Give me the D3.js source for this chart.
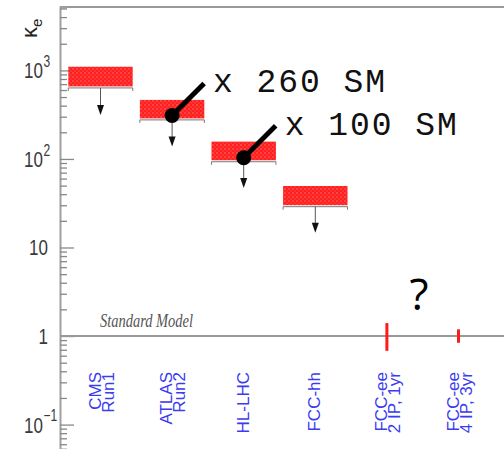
<!DOCTYPE html>
<html>
<head>
<meta charset="utf-8">
<script src="https://cdn.jsdelivr.net/npm/d3@7"></script>
<style>
  body { margin: 0; background: #fff; }
  svg { display: block; }
</style>
</head>
<body>
<div id="chart"></div>
<script>
// categories along the x axis (each label is drawn as rotated lines)
const categories = ["CMS Run1", "ATLAS Run2", "HL-LHC", "FCC-hh", "FCC-ee 2IP", "FCC-ee 4IP"];
const categoryLines = [["CMS", "Run1"], ["ATLAS", "Run2"], ["HL-LHC"], ["FCC-hh"], ["FCC-ee", "2 IP, 1yr"], ["FCC-ee", "4 IP, 3yr"]];

// upper limits on kappa_e (hatched boxes + arrows)
const limitCats = ["CMS Run1", "ATLAS Run2", "HL-LHC", "FCC-hh"];
const limitHigh = [1100, 464, 157, 49.5];
const limitLow = [634, 276, 93, 28.9];
const arrowEnd = [314, 138, 47, 14.7];

// FCC-ee projected sensitivity around SM
const rangeCats = ["FCC-ee 2IP", "FCC-ee 4IP"];
const rangeHigh = [1.40, 1.19];
const rangeLow = [0.68, 0.84];

// callouts
const annoCats = ["ATLAS Run2", "HL-LHC"];
const annoValues = [310, 103];
const annoTexts = ["x 260 SM", "x 100 SM"];

// y axis labels
const yLabelValues = [1000, 100, 10, 1, 0.1];
const yLabelBase = ["10", "10", "10", "1", "10"];
const yLabelExp = ["3", "2", "", "", "\u22121"];

const width = 504, height = 449;
const axisX = 60, topY = 7;

const svg = d3.select("#chart").append("svg")
  .attr("width", width)
  .attr("height", height);

const defs = svg.append("defs");
const pat = defs.append("pattern")
  .attr("id", "dots")
  .attr("patternUnits", "userSpaceOnUse")
  .attr("width", 4).attr("height", 4);
pat.append("rect").attr("width", 4).attr("height", 4).attr("fill", "#ff1f1f");
pat.append("circle").attr("cx", 1).attr("cy", 1).attr("r", 0.8).attr("fill", "#ff7070");
pat.append("circle").attr("cx", 3).attr("cy", 3).attr("r", 0.8).attr("fill", "#ff4848");

const y = d3.scaleLog().domain([0.053, 5200]).range([height, topY]);
const x = d3.scalePoint().domain(categories).range([100.5, 458.5]);
const boxW = x.step() * 0.9;

// frame: top line and left axis line
svg.append("line")
  .attr("x1", axisX).attr("x2", width)
  .attr("y1", topY).attr("y2", topY)
  .attr("stroke", "#9a9a9a").attr("stroke-width", 2);

// ticks (inward) via d3 axis
const tickVals = y.ticks().filter(d => d >= 0.053 && d <= 5200);
const axis = svg.append("g")
  .attr("transform", `translate(${axisX},0)`)
  .call(d3.axisRight(y).tickValues(tickVals).tickSize(7).tickFormat(""));
axis.select(".domain").attr("stroke", "#a0a0a0").attr("stroke-width", 2);
axis.selectAll(".tick line")
  .attr("stroke", "#888")
  .attr("stroke-width", 1.3)
  .attr("x2", d => (Math.abs(Math.log10(d) - Math.round(Math.log10(d))) < 1e-6 ? 14 : 7));

// tick labels
const yl = svg.append("g")
  .attr("font-family", "Arial, 'Liberation Sans', sans-serif")
  .attr("fill", "#3a3a3a");
yLabelValues.forEach((v, i) => {
  const hasExp = yLabelExp[i] !== "";
  const g = yl.append("g")
    .attr("transform", `translate(${hasExp ? 43 : 48},${y(v)}) scale(1,1.3)`);
  g.append("text")
    .attr("text-anchor", "end")
    .attr("dy", "0.36em")
    .attr("font-size", 17)
    .text(yLabelBase[i]);
  if (hasExp) {
    g.append("text")
      .attr("x", 0.5)
      .attr("dy", "-0.2em")
      .attr("font-size", 12)
      .text(yLabelExp[i]);
  }
});

// y title kappa_e
const yt = svg.append("text")
  .attr("transform", "translate(37,38) rotate(-90)")
  .attr("font-family", "Arial, 'Liberation Sans', sans-serif")
  .attr("fill", "#222")
  .attr("font-size", 22);
yt.append("tspan").text("\u03ba");
yt.append("tspan").attr("font-size", 15).attr("dy", 5).text("e");

// SM line
svg.append("line")
  .attr("x1", axisX).attr("x2", width)
  .attr("y1", y(1)).attr("y2", y(1))
  .attr("stroke", "#999").attr("stroke-width", 2);
svg.append("text")
  .attr("x", 100).attr("y", 327)
  .attr("font-family", "'Times New Roman', 'Liberation Serif', serif")
  .attr("font-style", "italic")
  .attr("font-size", 19)
  .attr("fill", "#555")
  .attr("textLength", 93)
  .attr("lengthAdjust", "spacingAndGlyphs")
  .text("Standard Model");

// limit boxes
const limits = limitCats.map((c, i) => ({ c, hi: limitHigh[i], lo: limitLow[i], end: arrowEnd[i] }));
const lg = svg.append("g").selectAll("g").data(limits).join("g");
lg.append("rect")
  .attr("x", d => x(d.c) - boxW / 2)
  .attr("y", d => y(d.hi))
  .attr("width", boxW)
  .attr("height", d => y(d.lo) - y(d.hi) - 1.5)
  .attr("fill", "url(#dots)");
lg.append("path")
  .attr("d", d => {
    const x0 = x(d.c) - boxW / 2, x1 = x(d.c) + boxW / 2, yb = y(d.lo);
    return `M${x0},${yb + 3}V${yb}H${x1}V${yb + 3}`;
  })
  .attr("fill", "none")
  .attr("stroke", "#777")
  .attr("stroke-width", 1);
lg.append("line")
  .attr("x1", d => x(d.c)).attr("x2", d => x(d.c))
  .attr("y1", d => y(d.lo)).attr("y2", d => y(d.end) - 8)
  .attr("stroke", "#555").attr("stroke-width", 1);
lg.append("path")
  .attr("d", d => {
    const cx = x(d.c), ye = y(d.end);
    return `M${cx - 3.5},${ye - 10}L${cx + 3.5},${ye - 10}L${cx},${ye}Z`;
  })
  .attr("fill", "#111");

// FCC-ee ranges
svg.append("g").selectAll("line")
  .data(rangeCats.map((c, i) => ({ c, hi: rangeHigh[i], lo: rangeLow[i] })))
  .join("line")
  .attr("x1", d => x(d.c)).attr("x2", d => x(d.c))
  .attr("y1", d => y(d.hi)).attr("y2", d => y(d.lo))
  .attr("stroke", "#ff1a1a").attr("stroke-width", 3);

// category labels (rotated, blue)
const cl = svg.append("g")
  .attr("font-family", "Arial, 'Liberation Sans', sans-serif")
  .attr("font-size", 17)
  .attr("fill", "#3b3bf0");
categories.forEach((c, i) => {
  const lines = categoryLines[i];
  const base = lines.length === 1 ? x(c) + 5 : x(c);
  lines.forEach((t, j) => {
    cl.append("text")
      .attr("transform", `translate(${base + j * 13},372) rotate(-90)`)
      .attr("text-anchor", "end")
      .text(t);
  });
});

// callouts
const ag = svg.append("g");
annoCats.forEach((c, i) => {
  const px = x(c), py = y(annoValues[i]);
  const ex = px + 32, ey = py - 32;
  ag.append("line")
    .attr("x1", px).attr("y1", py).attr("x2", ex).attr("y2", ey)
    .attr("stroke", "#000").attr("stroke-width", 5);
  ag.append("circle").attr("cx", px).attr("cy", py).attr("r", 7.5).attr("fill", "#000");
  ag.append("text")
    .attr("x", ex + 9).attr("y", ey + 9)
    .attr("font-family", "'Courier New', 'Liberation Mono', monospace")
    .attr("font-size", 33)
    .attr("fill", "#111")
    .attr("textLength", 172)
    .attr("lengthAdjust", "spacing")
    .text(annoTexts[i]);
});

// question mark
svg.append("text")
  .attr("x", 419).attr("y", 310)
  .attr("text-anchor", "middle")
  .attr("font-family", "'Open Sans', 'Noto Sans', sans-serif")
  .attr("font-size", 44)
  .attr("fill", "#000")
  .text("?");
</script>
</body>
</html>
